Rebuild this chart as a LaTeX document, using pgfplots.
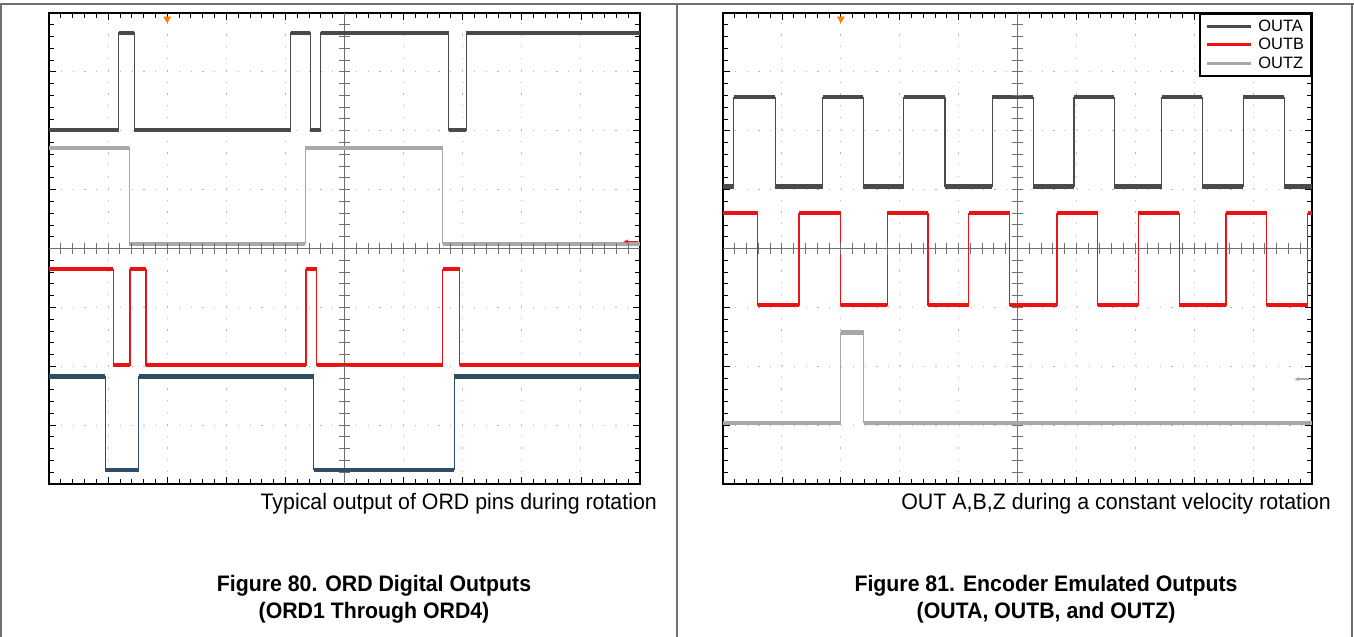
\documentclass[border=0pt]{standalone}
\usepackage{pgfplots}
\pgfplotsset{compat=1.18}
\usepackage{fontspec}
\setmainfont{Liberation Sans}
\usetikzlibrary{arrows.meta}
\definecolor{trA}{HTML}{4A4A4A}
\definecolor{trB}{HTML}{A8A8A8}
\definecolor{trR}{HTML}{EE1111}
\definecolor{trU}{HTML}{2C4F68}
\definecolor{frameg}{HTML}{707070}
\definecolor{cline}{HTML}{707070}
\pgfplotsset{
  oscaxis/.style={
    scale only axis, height=471bp,
    xmin=0, xmax=10, ymin=0, ymax=8,
    xtick={0,...,10}, ytick={0,...,8},
    minor x tick num=4, minor y tick num=4,
    xticklabels={}, yticklabels={},
    tick align=inside, major tick length=7bp, minor tick length=5bp,
    tick style={black, line width=0.8bp},
    grid=major,
    major grid style={gray!60, line width=1.1bp, dash pattern=on 1.1bp off 10.7bp},
    axis line style={line width=2.5bp},
    unbounded coords=jump,
  },
  thintr/.style={line width=1.2bp},
  bandtr/.style={line width=4.5bp},
}
\begin{document}
\begin{tikzpicture}
\useasboundingbox (0bp,0bp) rectangle (1354bp,637bp);
\fill[white] (0bp,0bp) rectangle (1354bp,637bp);
% page frame
\draw[frameg, line width=1.3bp] (0bp,633bp) -- (1354bp,633bp);
\draw[frameg, line width=1.3bp] (1bp,0bp) -- (1bp,633bp);
\draw[frameg, line width=1.3bp] (677bp,0bp) -- (677bp,633bp);
\draw[frameg, line width=1.3bp] (1352bp,0bp) -- (1352bp,633bp);

% ---------------- left scope ----------------
\begin{axis}[oscaxis, at={(49bp,153bp)}, anchor=south west, width=591bp]
\draw[cline, line width=1.2bp] (axis cs:0,4) -- (axis cs:10,4);
\draw[cline, line width=1.2bp] (axis cs:5,0) -- (axis cs:5,8);
% trace 1 (dark grey)
\addplot[trA, thintr] coordinates {(0,6.01)(1.18,6.01)(1.18,7.66)(1.44,7.66)(1.44,6.01)(4.09,6.01)(4.09,7.66)(4.42,7.66)(4.42,6.01)(4.60,6.01)(4.60,7.66)(6.76,7.66)(6.76,6.01)(7.06,6.01)(7.06,7.66)(10,7.66)};
\addplot[trA, bandtr] coordinates {(0,6.01)(1.18,6.01)(1.18,nan)(1.18,7.66)(1.44,7.66)(1.44,nan)(1.44,6.01)(4.09,6.01)(4.09,nan)(4.09,7.66)(4.42,7.66)(4.42,nan)(4.42,6.01)(4.60,6.01)(4.60,nan)(4.60,7.66)(6.76,7.66)(6.76,nan)(6.76,6.01)(7.06,6.01)(7.06,nan)(7.06,7.66)(10,7.66)};
% trace 2 (light grey)
\addplot[trB, thintr] coordinates {(0,5.71)(1.36,5.71)(1.36,4.08)(4.34,4.08)(4.34,5.71)(6.66,5.71)(6.66,4.08)(10,4.08)};
\addplot[trB, bandtr] coordinates {(0,5.71)(1.36,5.71)(1.36,nan)(1.36,4.08)(4.34,4.08)(4.34,nan)(4.34,5.71)(6.66,5.71)(6.66,nan)(6.66,4.08)(10,4.08)};
% trace 3 (red)
\addplot[trR, thintr] coordinates {(0,3.65)(1.09,3.65)(1.09,2.02)(1.37,2.02)(1.37,3.65)(1.64,3.65)(1.64,2.02)(4.35,2.02)(4.35,3.65)(4.53,3.65)(4.53,2.02)(6.66,2.02)(6.66,3.65)(6.95,3.65)(6.95,2.02)(10,2.02)};
\addplot[trR, bandtr] coordinates {(0,3.65)(1.09,3.65)(1.09,nan)(1.09,2.02)(1.37,2.02)(1.37,nan)(1.37,3.65)(1.64,3.65)(1.64,nan)(1.64,2.02)(4.35,2.02)(4.35,nan)(4.35,3.65)(4.53,3.65)(4.53,nan)(4.53,2.02)(6.66,2.02)(6.66,nan)(6.66,3.65)(6.95,3.65)(6.95,nan)(6.95,2.02)(10,2.02)};
% trace 4 (blue)
\addplot[trU, thintr] coordinates {(0,1.83)(0.95,1.83)(0.95,0.24)(1.52,0.24)(1.52,1.83)(4.48,1.83)(4.48,0.24)(6.86,0.24)(6.86,1.83)(10,1.83)};
\addplot[trU, bandtr] coordinates {(0,1.83)(0.95,1.83)(0.95,nan)(0.95,0.24)(1.52,0.24)(1.52,nan)(1.52,1.83)(4.48,1.83)(4.48,nan)(4.48,0.24)(6.86,0.24)(6.86,nan)(6.86,1.83)(10,1.83)};
% trigger marker
\addplot[only marks, mark=triangle*, mark size=4bp, mark options={rotate=180, fill=orange, draw=orange}] coordinates {(2,7.90)};
\draw[trR, line width=1.5bp, -{Stealth[length=5bp]}] (axis cs:9.97,4.12) -- (axis cs:9.72,4.12);
\end{axis}
\foreach \i in {1,...,49} {\draw[cline, line width=1bp] ({(49+\i*11.82)*1bp},383bp) -- ++(0bp,11bp);}
\foreach \i in {1,...,39} {\draw[cline, line width=1bp] (339bp,{(153+\i*11.775)*1bp}) -- ++(11bp,0bp);}

% ---------------- right scope ----------------
\begin{axis}[oscaxis, at={(723bp,153bp)}, anchor=south west, width=589bp,
  legend style={at={(1,1)}, anchor=north east, draw=black, line width=1.8bp,
    font=\fontsize{16.5}{18}\selectfont, row sep=1.5bp, inner xsep=5bp, inner ysep=4bp,
    cells={anchor=west}},
  legend image code/.code={\draw[#1, line width=3bp] (0bp,0bp) -- (44bp,0bp); \path (49bp,0bp);},
  ]
\addlegendimage{trA}
\addlegendimage{trR}
\addlegendimage{trB}
\legend{OUTA,OUTB,OUTZ}
\draw[cline, line width=1.2bp] (axis cs:0,4) -- (axis cs:10,4);
\draw[cline, line width=1.2bp] (axis cs:5,0) -- (axis cs:5,8);
% OUTA
\addplot[trA, thintr, forget plot] coordinates {(0,5.05)(0.18,5.05)(0.18,6.57)(0.89,6.57)(0.89,5.05)(1.69,5.05)(1.69,6.57)(2.38,6.57)(2.38,5.05)(3.07,5.05)(3.07,6.57)(3.77,6.57)(3.77,5.05)(4.57,5.05)(4.57,6.57)(5.27,6.57)(5.27,5.05)(5.96,5.05)(5.96,6.57)(6.64,6.57)(6.64,5.05)(7.45,5.05)(7.45,6.57)(8.14,6.57)(8.14,5.05)(8.83,5.05)(8.83,6.57)(9.53,6.57)(9.53,5.05)(10,5.05)};
\addplot[trA, bandtr, forget plot] coordinates {(0,5.05)(0.18,5.05)(0.18,nan)(0.18,6.57)(0.89,6.57)(0.89,nan)(0.89,5.05)(1.69,5.05)(1.69,nan)(1.69,6.57)(2.38,6.57)(2.38,nan)(2.38,5.05)(3.07,5.05)(3.07,nan)(3.07,6.57)(3.77,6.57)(3.77,nan)(3.77,5.05)(4.57,5.05)(4.57,nan)(4.57,6.57)(5.27,6.57)(5.27,nan)(5.27,5.05)(5.96,5.05)(5.96,nan)(5.96,6.57)(6.64,6.57)(6.64,nan)(6.64,5.05)(7.45,5.05)(7.45,nan)(7.45,6.57)(8.14,6.57)(8.14,nan)(8.14,5.05)(8.83,5.05)(8.83,nan)(8.83,6.57)(9.53,6.57)(9.53,nan)(9.53,5.05)(10,5.05)};
% OUTB
\addplot[trR, thintr, forget plot] coordinates {(0,4.60)(0.59,4.60)(0.59,3.04)(1.29,3.04)(1.29,4.60)(2.00,4.60)(2.00,3.04)(2.79,3.04)(2.79,4.60)(3.48,4.60)(3.48,3.04)(4.17,3.04)(4.17,4.60)(4.87,4.60)(4.87,3.04)(5.67,3.04)(5.67,4.60)(6.36,4.60)(6.36,3.04)(7.05,3.04)(7.05,4.60)(7.75,4.60)(7.75,3.04)(8.54,3.04)(8.54,4.60)(9.23,4.60)(9.23,3.04)(9.93,3.04)(9.93,4.60)(10,4.60)};
\addplot[trR, bandtr, forget plot] coordinates {(0,4.60)(0.59,4.60)(0.59,nan)(0.59,3.04)(1.29,3.04)(1.29,nan)(1.29,4.60)(2.00,4.60)(2.00,nan)(2.00,3.04)(2.79,3.04)(2.79,nan)(2.79,4.60)(3.48,4.60)(3.48,nan)(3.48,3.04)(4.17,3.04)(4.17,nan)(4.17,4.60)(4.87,4.60)(4.87,nan)(4.87,3.04)(5.67,3.04)(5.67,nan)(5.67,4.60)(6.36,4.60)(6.36,nan)(6.36,3.04)(7.05,3.04)(7.05,nan)(7.05,4.60)(7.75,4.60)(7.75,nan)(7.75,3.04)(8.54,3.04)(8.54,nan)(8.54,4.60)(9.23,4.60)(9.23,nan)(9.23,3.04)(9.93,3.04)(9.93,nan)(9.93,4.60)(10,4.60)};
% OUTZ
\addplot[trB, thintr, forget plot] coordinates {(0,1.04)(2.00,1.04)(2.00,2.57)(2.39,2.57)(2.39,1.04)(10,1.04)};
\addplot[trB, bandtr, forget plot] coordinates {(0,1.04)(2.00,1.04)(2.00,nan)(2.00,2.57)(2.39,2.57)(2.39,nan)(2.39,1.04)(10,1.04)};
\addplot[only marks, forget plot, mark=triangle*, mark size=4bp, mark options={rotate=180, fill=orange, draw=orange}] coordinates {(2,7.90)};
\draw[trB, line width=1.5bp, -{Stealth[length=5bp]}] (axis cs:9.95,1.78) -- (axis cs:9.7,1.78);
\end{axis}
\foreach \i in {1,...,49} {\draw[cline, line width=1bp] ({(723+\i*11.78)*1bp},383bp) -- ++(0bp,11bp);}
\foreach \i in {1,...,39} {\draw[cline, line width=1bp] (1012bp,{(153+\i*11.775)*1bp}) -- ++(11bp,0bp);}

% ---------------- captions ----------------
\node[anchor=base east, inner sep=0] at (657bp,127bp) {\fontsize{22.5}{26}\selectfont\scalebox{0.952}[1]{Typical output of ORD pins during rotation}};
\node[anchor=base east, inner sep=0] at (1331bp,127bp) {\fontsize{22.5}{26}\selectfont\scalebox{0.955}[1]{OUT A,B,Z during a constant velocity rotation}};
\node[anchor=base, inner sep=0] at (374bp,45bp) {\fontsize{22.5}{26}\selectfont\bfseries\scalebox{0.95}[1]{Figure 80. ORD Digital Outputs}};
\node[anchor=base, inner sep=0] at (374bp,19bp) {\fontsize{22.5}{26}\selectfont\bfseries\scalebox{0.95}[1]{(ORD1 Through ORD4)}};
\node[anchor=base, inner sep=0] at (1046bp,45bp) {\fontsize{22.5}{26}\selectfont\bfseries\scalebox{0.95}[1]{Figure 81. Encoder Emulated Outputs}};
\node[anchor=base, inner sep=0] at (1046bp,19bp) {\fontsize{22.5}{26}\selectfont\bfseries\scalebox{0.95}[1]{(OUTA, OUTB, and OUTZ)}};
\end{tikzpicture}
\end{document}
